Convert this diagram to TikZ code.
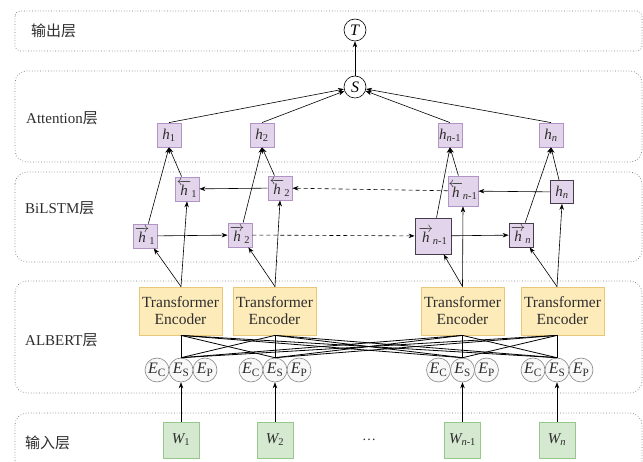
\documentclass[tikz,border=0pt]{standalone}
\usepackage{amsmath}
\usepackage{fontspec}
\setmainfont{Liberation Serif}
\newfontfamily\cjk{Noto Sans CJK SC}
\usetikzlibrary{arrows.meta,calc}
\definecolor{pfill}{RGB}{226,212,234}
\definecolor{pdraw}{RGB}{178,148,196}
\definecolor{pdark}{RGB}{70,60,75}
\definecolor{yfill}{RGB}{253,236,186}
\definecolor{ydraw}{RGB}{232,200,120}
\definecolor{gfill}{RGB}{213,232,208}
\definecolor{gdraw}{RGB}{150,200,140}
\definecolor{efill}{RGB}{248,248,248}
\definecolor{edraw}{RGB}{135,135,135}
\definecolor{txt}{RGB}{45,45,45}
\definecolor{layerc}{RGB}{120,120,120}
\newcommand{\iv}[1]{\textit{#1}}
\newcommand{\nmo}{\text{\textit{n}-1}}
\begin{document}
\begin{tikzpicture}[x=1pt,y=-1pt,
  layer/.style={draw=layerc,dotted,line width=0.7pt},
  lab/.style={anchor=west,text=txt,font=\fontsize{15}{17}\selectfont,inner sep=0pt},
  circ/.style={circle,draw=black,line width=0.6pt,minimum size=22pt,inner sep=0pt,fill=white,font=\fontsize{16}{18}\selectfont},
  hbox/.style={draw=pdraw,fill=pfill,line width=0.8pt,minimum size=24pt,inner sep=0pt,text=txt,font=\fontsize{15}{17}\selectfont},
  hdark/.style={hbox,draw=pdark},
  tbox/.style={draw=ydraw,fill=yfill,line width=0.8pt,minimum width=83pt,minimum height=48pt,inner sep=0pt,align=center,text=txt,font=\fontsize{15.5}{17}\selectfont},
  ecirc/.style={circle,draw=edraw,fill=efill,line width=0.6pt,minimum size=24pt,inner sep=0pt,text=txt,font=\fontsize{16}{18}\selectfont},
  wbox/.style={draw=gdraw,fill=gfill,line width=0.8pt,minimum size=36pt,inner sep=0pt,text=txt,font=\fontsize{15}{17}\selectfont},
  arr/.style={-{Stealth[length=6pt,width=4.5pt]},line width=0.6pt},
  darr/.style={arr,dash pattern=on 4pt off 3pt},
  cross/.style={line width=0.8pt}
]
\useasboundingbox (0,0) rectangle (643,462);
\clip (0,0) rectangle (643,462);
\fill[white] (0,0) rectangle (643,462);

% layers
\draw[layer,rounded corners=5pt] (15,11) rectangle (642,51);
\draw[layer,rounded corners=12pt] (15,71) rectangle (642,162);
\draw[layer,rounded corners=12pt] (15,172) rectangle (642,262);
\draw[layer,rounded corners=12pt] (15,281) rectangle (642,393);
\draw[layer,rounded corners=12pt] (15,413) rectangle (642,490);

\node[lab] (l1) at (31,31) {\cjk 输出层};
\node[lab] (l2) at (26,118) {Attention{\cjk 层}};
\node[lab] (l3) at (25,208) {BiLSTM{\cjk 层}};
\node[lab] (l4) at (25,340) {ALBERT{\cjk 层}};
\node[lab] (l5) at (25,443) {\cjk 输入层};

% output
\node[circ] (T) at (355,30) {\iv{T}};
\node[circ] (S) at (355,87) {\iv{S}};

% attention h
\node[hbox] (h1) at (169,135) {$\iv{h}_{\text{1}}$};
\node[hbox] (h2) at (262,135) {$\iv{h}_{\text{2}}$};
\node[hbox] (h3) at (450,135) {$\iv{h}_{\nmo}$};
\node[hbox] (h4) at (551,135) {$\iv{h}_{\text{\iv{n}}}$};

% backward
\node[hbox] (bh1) at (187,189) {$\overleftarrow{\iv{h}}_{\text{1}}$};
\node[hbox] (bh2) at (280,188) {$\overleftarrow{\iv{h}}_{\text{2}}$};
\node[hbox,minimum size=30pt] (bh3) at (463,191) {$\overleftarrow{\iv{h}}_{\nmo}$};
\node[hdark,minimum size=23pt] (bh4) at (562,192) {$\iv{h}_{\text{\iv{n}}}$};

% forward
\node[hbox] (fh1) at (145,236) {$\overrightarrow{\iv{h}}_{\text{1}}$};
\node[hbox] (fh2) at (240,235) {$\overrightarrow{\iv{h}}_{\text{2}}$};
\node[hdark,minimum size=36pt] (fh3) at (433,236) {$\overrightarrow{\iv{h}}_{\nmo}$};
\node[hdark] (fh4) at (521,235) {$\overrightarrow{\iv{h}}_{\text{\iv{n}}}$};

% transformers
\node[tbox] (tr1) at (180.5,311) {Transformer\\Encoder};
\node[tbox] (tr2) at (274.5,311) {Transformer\\Encoder};
\node[tbox] (tr3) at (462.5,311) {Transformer\\Encoder};
\node[tbox] (tr4) at (562.5,311) {Transformer\\Encoder};

% embeddings
\foreach \i/\x in {1/181,2/275,3/462.5,4/557}{
  \node[ecirc] (ec\i) at (\x-24,370) {$\iv{E}_{\text{C}}$};
  \node[ecirc] (ep\i) at (\x+24,370) {$\iv{E}_{\text{P}}$};
  \node[ecirc] (es\i) at (\x,370) {$\iv{E}_{\text{S}}$};
}

% inputs
\node[wbox] (w1) at (181,440) {$\iv{W}_{\text{1}}$};
\node[wbox] (w2) at (275,440) {$\iv{W}_{\text{2}}$};
\node[wbox] (w3) at (462.5,440) {$\iv{W}_{\nmo}$};
\node[wbox] (w4) at (557,440) {$\iv{W}_{\text{\iv{n}}}$};
\node[text=txt,font=\fontsize{14}{16}\selectfont] (dots) at (369,440) {\dots};

% connectors
\draw[arr] (S) -- (T);
\foreach \i in {1,...,4}{
  \draw[arr] (h\i.north) -- (S);
  \draw[arr] (fh\i) -- (h\i.south);
  \draw[arr] (bh\i) -- (h\i.south);
  \draw[arr] (tr\i.north -| es\i) -- (fh\i);
  \draw[arr] (tr\i.north -| es\i) -- (bh\i.south);
  \draw[arr] (w\i) -- (es\i);
  \foreach \j in {1,...,4}{
    \draw[cross] (tr\j.south -| es\j) -- (es\i.north);
  }
}
\draw[arr] (fh1) -- (fh2);
\draw[darr] (fh2) -- (fh3);
\draw[arr] (fh3) -- (fh4);
\draw[arr] (bh4) -- (bh3);
\draw[darr] (bh3) -- (bh2);
\draw[arr] (bh2) -- (bh1);
\end{tikzpicture}
\end{document}
